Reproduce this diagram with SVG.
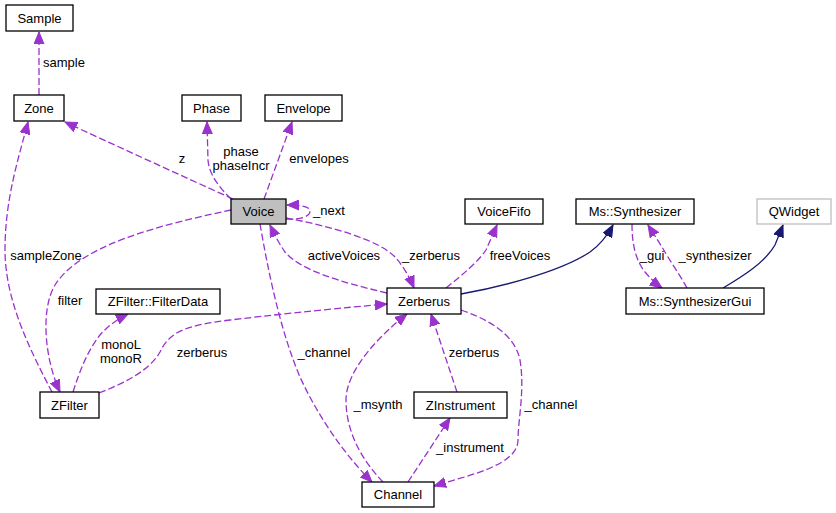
<svg xmlns="http://www.w3.org/2000/svg" width="836" height="513" viewBox="0 0 836 513">
<style>
.node rect{fill:#fff;stroke:#000;stroke-width:1.3}
.node text,.lbl{font-family:"Liberation Sans",Arial,Helvetica,sans-serif;font-size:13px;fill:#000;text-anchor:middle}
.use{fill:none;stroke:#9a32cd;stroke-width:1.3;stroke-dasharray:7,3;marker-end:url(#ap)}
.inh{fill:none;stroke:#191970;stroke-width:1.3;marker-end:url(#ab)}
.nomark{marker-end:none}
</style>
<defs>
<marker id="ap" markerUnits="userSpaceOnUse" markerWidth="13" markerHeight="11" refX="12" refY="5" orient="auto" viewBox="0 0 13 10">
<path d="M0,0 L12,5 L0,10 z" fill="#9a32cd" stroke="#9a32cd" stroke-width="1"/>
</marker>
<marker id="ab" markerUnits="userSpaceOnUse" markerWidth="13" markerHeight="11" refX="12" refY="5" orient="auto" viewBox="0 0 13 10">
<path d="M0,0 L12,5 L0,10 z" fill="#191970" stroke="#191970" stroke-width="1"/>
</marker>
</defs>
<rect width="836" height="513" fill="#fff"/>
<g id="edges">
<path class="use" d="M39,95 L39,32"/>
<path class="use" d="M233,199 C180,175 110,143 65,122"/>
<path class="use" d="M231,199 C220,188 209,175 208,160 L207,122"/>
<path class="use" d="M264,199 L292,122"/>
<path class="use" d="M286,219 C302,220 310,216 310,211 C310,207 302,205 287,205"/>
<path class="use" d="M286,218 C330,226 380,240 396,258 C403,266 409,276 414,288"/>
<path class="use" d="M387,293 C340,282 300,270 285,252 C280,245 275,236 270,225"/>
<path class="use" d="M446,288 C462,275 478,262 486,250 L497,225"/>
<path class="inh" d="M461,294 C500,287 560,272 590,252 C600,245 607,236 613,225"/>
<path class="use" d="M632,224 C632,240 634,258 645,272 C650,278 655,283 662,288"/>
<path class="use" d="M687,288 C680,275 668,258 662,247 L648,225"/>
<path class="inh" d="M723,288 C745,275 765,262 775,245 L783,225"/>
<path class="use" d="M52,392 C30,350 5,300 5,250 C5,200 18,160 28,122"/>
<path class="use" d="M231,210 C160,225 80,245 55,285 C40,310 45,360 60,392"/>
<path class="use" d="M73,392 C80,370 88,350 100,335 C108,326 116,320 128,314"/>
<path class="use" d="M99,393 C125,383 150,370 160,352 C170,330 190,325 230,320 C290,313 340,308 387,304"/>
<path class="use" d="M260,224 C268,270 280,330 300,377 C315,410 340,450 372,482"/>
<path class="use" d="M383,482 C360,458 346,430 346,400 C346,370 380,335 407,314"/>
<path class="use" d="M457,392 L431,314"/>
<path class="use" d="M408,482 L450,418"/>
<path class="use" d="M461,310 C490,320 515,335 520,360 C525,390 518,420 518,440 C518,465 470,475 434,486"/>
</g>
<g id="labels">
<text class="lbl" x="64" y="67">sample</text>
<text class="lbl" x="182" y="163">z</text>
<text class="lbl" x="241" y="156">phase</text>
<text class="lbl" x="241" y="170">phaseIncr</text>
<text class="lbl" x="319" y="163">envelopes</text>
<text class="lbl" x="329" y="215">_next</text>
<text class="lbl" x="431" y="260">_zerberus</text>
<text class="lbl" x="344" y="260">activeVoices</text>
<text class="lbl" x="520" y="260">freeVoices</text>
<text class="lbl" x="652" y="260">_gui</text>
<text class="lbl" x="715" y="260">_synthesizer</text>
<text class="lbl" x="46" y="260">sampleZone</text>
<text class="lbl" x="70" y="305">filter</text>
<text class="lbl" x="121" y="349">monoL</text>
<text class="lbl" x="121" y="363">monoR</text>
<text class="lbl" x="202" y="357">zerberus</text>
<text class="lbl" x="324" y="357">_channel</text>
<text class="lbl" x="474" y="357">zerberus</text>
<text class="lbl" x="378" y="409">_msynth</text>
<text class="lbl" x="551" y="409">_channel</text>
<text class="lbl" x="470" y="452">_instrument</text>
</g>
<g id="Sample" class="node"><rect x="6" y="5" width="67" height="26"/><text x="39.5" y="22.5">Sample</text></g>
<g id="Zone" class="node"><rect x="14" y="95" width="50" height="26"/><text x="39" y="112.5">Zone</text></g>
<g id="Phase" class="node"><rect x="182" y="95" width="59" height="26"/><text x="211.5" y="112.5">Phase</text></g>
<g id="Envelope" class="node"><rect x="265" y="95" width="77" height="26"/><text x="303.5" y="112.5">Envelope</text></g>
<g id="Voice" class="node"><rect x="231" y="199" width="55" height="25" style="fill:#bfbfbf"/><text x="258.5" y="216">Voice</text></g>
<g id="VoiceFifo" class="node"><rect x="465" y="199" width="78" height="25"/><text x="504" y="216">VoiceFifo</text></g>
<g id="MsSynthesizer" class="node"><rect x="576" y="199" width="118" height="25"/><text x="635" y="216">Ms::Synthesizer</text></g>
<g id="QWidget" class="node"><rect x="757" y="199" width="74" height="25" style="stroke:#bfbfbf"/><text x="794" y="216">QWidget</text></g>
<g id="Zerberus" class="node"><rect x="387" y="288" width="74" height="26"/><text x="424" y="305.5">Zerberus</text></g>
<g id="MsSynthesizerGui" class="node"><rect x="626" y="288" width="138" height="26"/><text x="695" y="305.5">Ms::SynthesizerGui</text></g>
<g id="FilterData" class="node"><rect x="96" y="289" width="124" height="25"/><text x="158" y="306">ZFilter::FilterData</text></g>
<g id="ZFilter" class="node"><rect x="40" y="392" width="59" height="26"/><text x="69.5" y="409.5">ZFilter</text></g>
<g id="ZInstrument" class="node"><rect x="414" y="392" width="93" height="26"/><text x="460.5" y="409.5">ZInstrument</text></g>
<g id="Channel" class="node"><rect x="362" y="482" width="72" height="25"/><text x="398" y="499">Channel</text></g>
</svg>
